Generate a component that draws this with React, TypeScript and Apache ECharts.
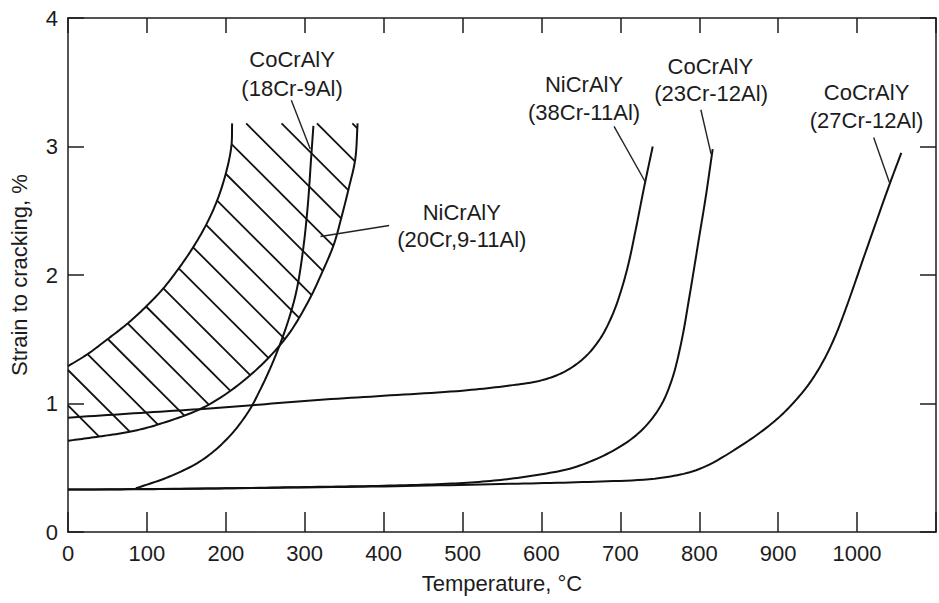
import React, { useEffect, useRef } from "react";
import * as echarts from "echarts";

// ---- data (temperature °C, strain to cracking %) ----
const ni38Cr11Al: number[][] = [
  [0, 0.89], [100, 0.93], [200, 0.97], [300, 1.02], [400, 1.06], [500, 1.1],
  [560, 1.14], [600, 1.18], [630, 1.25], [655, 1.36], [675, 1.51], [690, 1.69],
  [700, 1.86], [710, 2.08], [720, 2.37], [730, 2.68], [741, 3.0],
];
const co23Cr12Al: number[][] = [
  [0, 0.33], [100, 0.333], [200, 0.34], [300, 0.35], [400, 0.36], [480, 0.375],
  [540, 0.4], [590, 0.44], [640, 0.5], [690, 0.63], [725, 0.78], [750, 0.97],
  [765, 1.18], [777, 1.47], [788, 1.85], [800, 2.3], [808, 2.6], [817, 2.98],
];
const co27Cr12Al: number[][] = [
  [0, 0.33], [200, 0.34], [400, 0.355], [560, 0.375], [660, 0.39], [750, 0.42],
  [800, 0.49], [850, 0.66], [895, 0.86], [920, 1.01], [940, 1.16], [958, 1.34],
  [972, 1.52], [987, 1.76], [1012, 2.2], [1042, 2.72], [1056, 2.95],
];
const co18Cr9Al: number[][] = [
  [86, 0.34], [128, 0.43], [170, 0.56], [204, 0.74], [229, 0.94], [243, 1.1],
  [256, 1.27], [268, 1.45], [281, 1.68], [290, 1.89], [298, 2.2], [304, 2.55],
  [308, 2.9], [311, 3.16],
];
// NiCrAlY (20Cr, 9-11Al) scatter band
const bandUpper: number[][] = [
  [0, 1.29], [25, 1.385], [50, 1.5], [76, 1.625], [99, 1.755], [120, 1.89],
  [139, 2.04], [158, 2.21], [175, 2.39], [189, 2.58], [200, 2.79], [207, 3.0],
  [208, 3.18],
];
const bandLower: number[][] = [
  [0, 0.71], [36, 0.74], [78, 0.78], [116, 0.84], [175, 0.98], [229, 1.21],
  [276, 1.51], [305, 1.8], [322, 2.02], [337, 2.24], [347, 2.46], [356, 2.68],
  [364, 2.9], [367, 3.18],
];

// leader lines
const leaders: number[][][] = [
  [[283, 3.36], [307, 2.98]],
  [[407, 2.385], [320, 2.3]],
  [[692, 3.157], [732, 2.72]],
  [[802, 3.286], [815, 2.94]],
  [[1021, 3.07], [1041, 2.72]],
];
// label texts and their anchors (data units)
const labelTexts = [
  "CoCrAlY", "(18Cr-9Al)",
  "NiCrAlY", "(20Cr,9-11Al)",
  "NiCrAlY", "(38Cr-11Al)",
  "CoCrAlY", "(23Cr-12Al)",
  "CoCrAlY", "(27Cr-12Al)",
];
const labelAnchors: number[][] = [
  [284, 3.675], [284, 3.455],
  [499, 2.49], [499, 2.275],
  [654, 3.48], [654, 3.265],
  [814, 3.623], [815, 3.41],
  [1012, 3.42], [1012, 3.205],
];

const FONT = '"Liberation Sans", Arial, Helvetica, sans-serif';
const INK = "#1c1c1c";

// centripetal Catmull-Rom through pixel points (rendering only)
function densify(p: number[][], seg = 12): number[][] {
  const n = p.length;
  if (n < 3) return p;
  const ext = [
    [2 * p[0][0] - p[1][0], 2 * p[0][1] - p[1][1]],
    ...p,
    [2 * p[n - 1][0] - p[n - 2][0], 2 * p[n - 1][1] - p[n - 2][1]],
  ];
  const dist = (a: number[], b: number[]) =>
    Math.max(Math.pow(Math.hypot(a[0] - b[0], a[1] - b[1]), 0.5), 1e-6);
  const lerp = (a: number[], b: number[], ta: number, tb: number, t: number) => [
    ((tb - t) / (tb - ta)) * a[0] + ((t - ta) / (tb - ta)) * b[0],
    ((tb - t) / (tb - ta)) * a[1] + ((t - ta) / (tb - ta)) * b[1],
  ];
  const out: number[][] = [];
  for (let i = 1; i < ext.length - 2; i++) {
    const P0 = ext[i - 1], P1 = ext[i], P2 = ext[i + 1], P3 = ext[i + 2];
    const t0 = 0;
    const t1 = t0 + dist(P0, P1);
    const t2 = t1 + dist(P1, P2);
    const t3 = t2 + dist(P2, P3);
    for (let j = 0; j < seg; j++) {
      const t = t1 + ((t2 - t1) * j) / seg;
      const A1 = lerp(P0, P1, t0, t1, t);
      const A2 = lerp(P1, P2, t1, t2, t);
      const A3 = lerp(P2, P3, t2, t3, t);
      const B1 = lerp(A1, A2, t0, t2, t);
      const B2 = lerp(A2, A3, t1, t3, t);
      out.push(lerp(B1, B2, t1, t2, t));
    }
  }
  out.push(p[n - 1]);
  return out;
}

export default function App() {
  const ref = useRef<HTMLDivElement>(null);
  useEffect(() => {
    const chart = echarts.init(ref.current!, null, { renderer: "svg" });
    const axisLine = { show: true, onZero: false, lineStyle: { color: INK, width: 1.5 } };
    const tickStyle = { color: INK, width: 1.5 };

    const curve = (data: number[][]) => ({
      type: "custom",
      coordinateSystem: "cartesian2d",
      data,
      silent: true,
      z: 3,
      renderItem: (params: any, api: any) => {
        if (params.dataIndex !== 0) return null;
        const pts = densify(data.map((d) => api.coord(d)));
        return {
          type: "polyline",
          shape: { points: pts },
          style: { stroke: "#111", lineWidth: 2, fill: "none" },
        };
      },
    });

    const bandSeries = {
      type: "custom",
      coordinateSystem: "cartesian2d",
      data: [[0, 0]],
      silent: true,
      z: 2,
      renderItem: (_params: any, api: any) => {
        const up = densify(bandUpper.map((d) => api.coord(d)));
        const lo = densify(bandLower.map((d) => api.coord(d)));
        const poly: number[][] = [...up, ...lo.slice().reverse()];
        const origin = api.coord([0, 0]);
        const children: any[] = [];
        const gap = 35.4;
        const start = -126.6;
        for (let k = -6; k < 30; k++) {
          const c = start - gap * k + origin[1] - origin[0];
          const pts: number[][] = [];
          for (let i = 0; i < poly.length; i++) {
            const a = poly[i];
            const b = poly[(i + 1) % poly.length];
            const fa = a[1] - a[0] - c;
            const fb = b[1] - b[0] - c;
            if ((fa < 0 && fb >= 0) || (fa >= 0 && fb < 0)) {
              const t = fa / (fa - fb);
              pts.push([a[0] + (b[0] - a[0]) * t, a[1] + (b[1] - a[1]) * t]);
            }
          }
          pts.sort((p, q) => p[0] - q[0]);
          for (let i = 0; i + 1 < pts.length; i += 2) {
            children.push({
              type: "line",
              shape: { x1: pts[i][0], y1: pts[i][1], x2: pts[i + 1][0], y2: pts[i + 1][1] },
              style: { stroke: "#111", lineWidth: 1.8 },
            });
          }
        }
        children.push({
          type: "polyline",
          shape: { points: up },
          style: { stroke: "#111", lineWidth: 2, fill: "none" },
        });
        children.push({
          type: "polyline",
          shape: { points: lo },
          style: { stroke: "#111", lineWidth: 2, fill: "none" },
        });
        return { type: "group", children };
      },
    };

    const labelSeries = {
      type: "custom",
      coordinateSystem: "cartesian2d",
      data: labelAnchors,
      silent: true,
      z: 5,
      renderItem: (params: any, api: any) => {
        const p = api.coord([api.value(0), api.value(1)]);
        return {
          type: "text",
          x: p[0],
          y: p[1],
          style: {
            text: labelTexts[params.dataIndex],
            fill: INK,
            fontSize: 22,
            fontFamily: FONT,
            align: "center",
            verticalAlign: "middle",
          },
        };
      },
    };

    const leaderSeries = leaders.map((seg) => ({
      type: "line",
      data: seg,
      symbol: "none",
      lineStyle: { color: "#222", width: 1.4 },
      silent: true,
      z: 4,
    }));

    chart.setOption({
      animation: false,
      backgroundColor: "#fff",
      grid: { left: 65, right: 3, top: 18, bottom: 71, containLabel: false },
      xAxis: [
        {
          type: "value", min: 0, max: 1100, interval: 100, position: "bottom",
          name: "Temperature, °C", nameLocation: "middle", nameGap: 40,
          nameTextStyle: { fontSize: 22, color: INK, fontFamily: FONT },
          axisLine, axisTick: { show: true, inside: true, length: 20, lineStyle: tickStyle },
          axisLabel: {
            fontSize: 22, color: INK, fontFamily: FONT, margin: 10,
            formatter: (v: number) => (v === 1100 ? "" : String(v)),
          },
          splitLine: { show: false },
        },
        {
          type: "value", min: 0, max: 1100, interval: 100, position: "top",
          axisLine, axisTick: { show: true, inside: true, length: 15, lineStyle: tickStyle },
          axisLabel: { show: false }, splitLine: { show: false },
        },
      ],
      yAxis: [
        {
          type: "value", min: 0, max: 4, interval: 1, position: "left",
          name: "Strain to cracking, %", nameLocation: "middle", nameGap: 38,
          nameTextStyle: { fontSize: 22, color: INK, fontFamily: FONT },
          axisLine, axisTick: { show: true, inside: true, length: 16, lineStyle: tickStyle },
          axisLabel: { fontSize: 22, color: INK, fontFamily: FONT, margin: 10 },
          splitLine: { show: false },
        },
        {
          type: "value", min: 0, max: 4, interval: 1, position: "right",
          axisLine, axisTick: { show: true, inside: true, length: 16, lineStyle: tickStyle },
          axisLabel: { show: false }, splitLine: { show: false },
        },
      ],
      series: [
        bandSeries,
        curve(ni38Cr11Al),
        curve(co23Cr12Al),
        curve(co27Cr12Al),
        curve(co18Cr9Al),
        ...leaderSeries,
        labelSeries,
      ],
    });
    return () => chart.dispose();
  }, []);
  return (
    <div
      ref={ref}
      style={{ position: "absolute", left: 0, top: 0, width: 939, height: 603 }}
    />
  );
}
